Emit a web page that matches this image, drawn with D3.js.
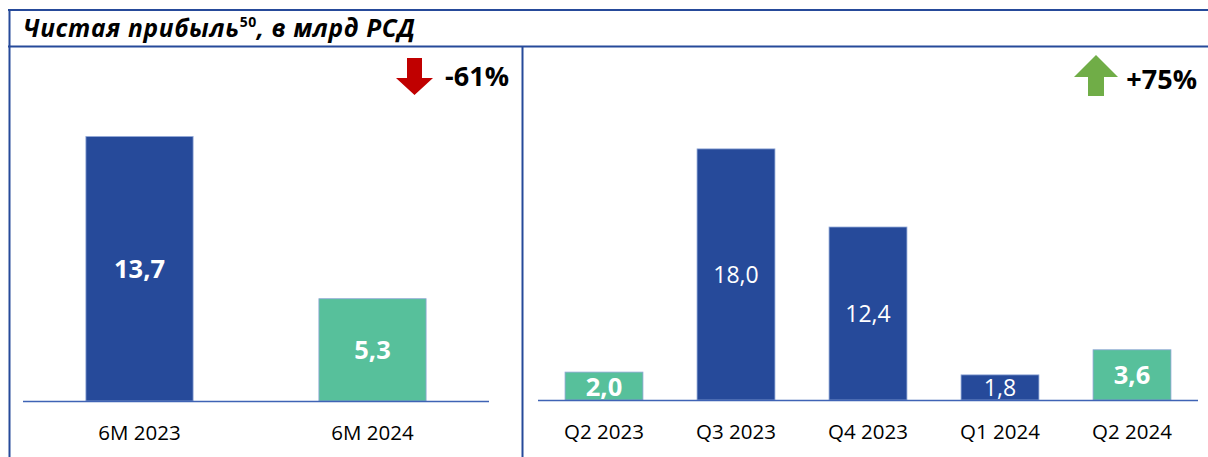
<!DOCTYPE html>
<html>
<head>
<meta charset="utf-8">
<script src="https://cdn.jsdelivr.net/npm/d3@7"></script>
<style>
  body { margin: 0; background: #fff; }
  svg { display: block; font-family: "Open Sans", Lato, sans-serif; }
</style>
</head>
<body>
<div id="chart"></div>
<script>
// data
var halfCategories = ["6M 2023", "6M 2024"];
var halfValues = [13.7, 5.3];
var halfColors = ["#264A9A", "#57C09B"];

var quarterCategories = ["Q2 2023", "Q3 2023", "Q4 2023", "Q1 2024", "Q2 2024"];
var quarterValues = [2.0, 18.0, 12.4, 1.8, 3.6];
var quarterColors = ["#57C09B", "#264A9A", "#264A9A", "#264A9A", "#57C09B"];

var changeLabels = ["-61%", "+75%"];

var W = 1208, H = 457;
var navy = "#264A9A";

var svg = d3.select("#chart")
  .append("svg")
  .attr("width", W)
  .attr("height", H);

// frame
svg.append("line").attr("x1", 9.5).attr("x2", 9.5).attr("y1", 9).attr("y2", H + 5)
  .attr("stroke", navy).attr("stroke-width", 2);
svg.append("line").attr("x1", 8).attr("x2", W + 5).attr("y1", 10).attr("y2", 10)
  .attr("stroke", navy).attr("stroke-width", 2);
svg.append("line").attr("x1", 8).attr("x2", W + 5).attr("y1", 46.5).attr("y2", 46.5)
  .attr("stroke", navy).attr("stroke-width", 2);
svg.append("line").attr("x1", 522.5).attr("x2", 522.5).attr("y1", 46).attr("y2", H + 5)
  .attr("stroke", navy).attr("stroke-width", 2);

// title
var title = svg.append("text")
  .attr("x", 23).attr("y", 37)
  .attr("font-size", 24.5).attr("font-weight", "bold").attr("font-style", "italic")
  .attr("letter-spacing", 0.65)
  .attr("fill", "#000");
title.append("tspan").text("Чистая прибыль");
title.append("tspan").attr("font-size", 14).attr("font-style", "normal").attr("dy", -10).text("50");
title.append("tspan").attr("dy", 10).text(", в млрд РСД");

// generic bar panel
function drawPanel(cats, vals, colors, x0, x1, baseY, pxPerUnit, padding, boldFn) {
  var x = d3.scaleBand().domain(cats).range([x0, x1]).paddingInner(padding).paddingOuter(padding / 2);
  var y = d3.scaleLinear().domain([0, 1]).range([baseY, baseY - pxPerUnit]);
  var g = svg.append("g");

  g.selectAll("rect.bar")
    .data(vals)
    .enter().append("rect")
      .attr("class", "bar")
      .attr("x", function(d, i) { return x(cats[i]); })
      .attr("y", function(d) { return y(d); })
      .attr("width", x.bandwidth())
      .attr("height", function(d) { return baseY - y(d); })
      .attr("fill", function(d, i) { return colors[i]; })
      .attr("stroke", "#8FA6D6")
      .attr("stroke-width", 0.8);

  // axis line
  g.append("line")
    .attr("x1", x0).attr("x2", x1)
    .attr("y1", baseY + 0.5).attr("y2", baseY + 0.5)
    .attr("stroke", "#3F63B5").attr("stroke-width", 1.5);

  // category labels
  g.selectAll("text.cat")
    .data(cats)
    .enter().append("text")
      .attr("class", "cat")
      .attr("x", function(d) { return x(d) + x.bandwidth() / 2; })
      .attr("y", baseY + 39)
      .attr("text-anchor", "middle")
      .attr("font-size", 20.5)
      .attr("fill", "#000")
      .text(function(d) { return d; });

  // value labels
  g.selectAll("text.val")
    .data(vals)
    .enter().append("text")
      .attr("class", "val")
      .attr("x", function(d, i) { return x(cats[i]) + x.bandwidth() / 2; })
      .attr("y", function(d, i) {
        var top = y(d), h = baseY - top;
        return top + h / 2 + (boldFn(i) ? 9.5 : 8.5);
      })
      .attr("text-anchor", "middle")
      .attr("font-size", function(d, i) { return boldFn(i) ? 25.5 : 23; })
      .attr("font-weight", function(d, i) { return boldFn(i) ? "bold" : "normal"; })
      .attr("fill", "#fff")
      .text(function(d) { return d3.format(".1f")(d).replace(".", ","); });
  return x;
}

drawPanel(halfCategories, halfValues, halfColors, 23, 489, 401, 19.3, 0.54,
  function(i) { return true; });
drawPanel(quarterCategories, quarterValues, quarterColors, 538, 1198, 400, 13.95, 0.41,
  function(i) { return quarterColors[i] !== navy; });

// change indicators
function downArrow(cx, top) {
  return "M" + (cx - 7.5) + "," + top + "H" + (cx + 7.5) + "V" + (top + 20) +
    "H" + (cx + 18.5) + "L" + cx + "," + (top + 37) + "L" + (cx - 18.5) + "," + (top + 20) +
    "H" + (cx - 7.5) + "Z";
}
function upArrow(cx, top) {
  return "M" + cx + "," + top + "L" + (cx + 22) + "," + (top + 22) + "H" + (cx + 8) +
    "V" + (top + 41) + "H" + (cx - 8) + "V" + (top + 22) + "H" + (cx - 22) + "Z";
}
svg.append("path").attr("d", downArrow(414.5, 58)).attr("fill", "#C00000");
svg.append("path").attr("d", upArrow(1096, 55)).attr("fill", "#70AD47");

svg.append("text").attr("x", 509).attr("y", 86).attr("text-anchor", "end")
  .attr("font-size", 27).attr("font-weight", "bold").text(changeLabels[0]);
svg.append("text").attr("x", 1197).attr("y", 89).attr("text-anchor", "end")
  .attr("font-size", 27).attr("font-weight", "bold").text(changeLabels[1]);
</script>
</body>
</html>
